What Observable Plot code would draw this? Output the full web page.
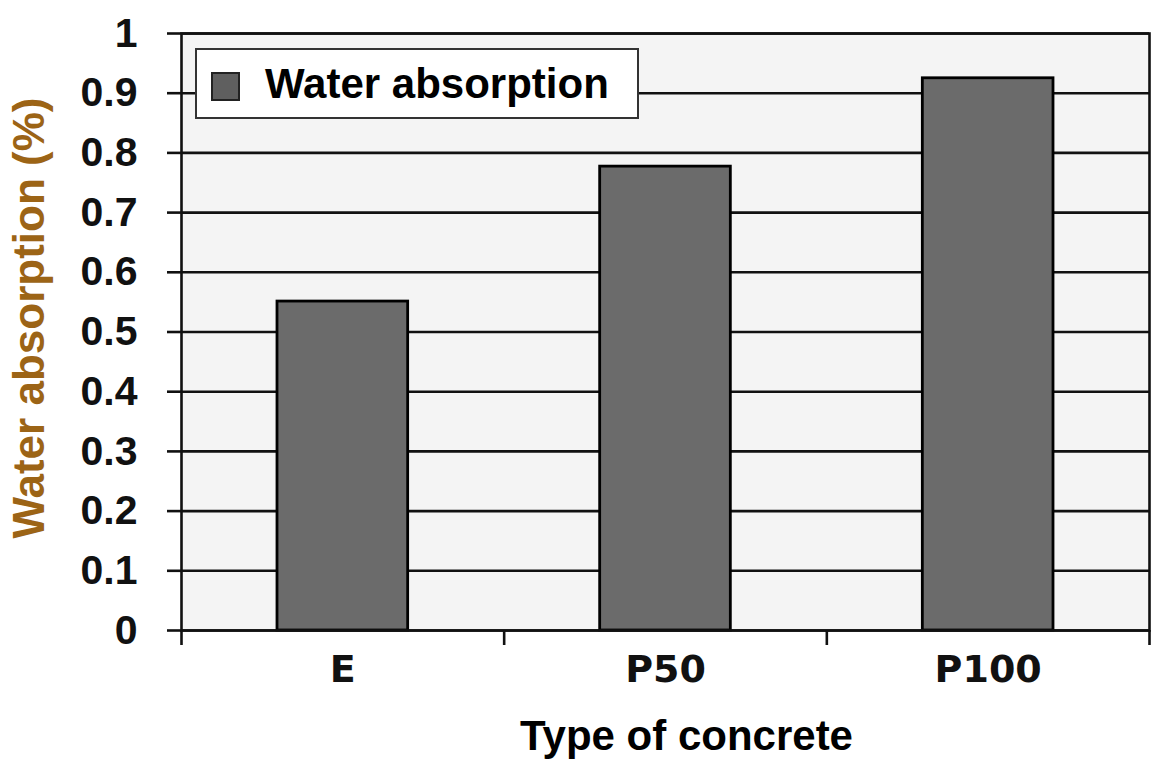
<!DOCTYPE html>
<html>
<head>
<meta charset="utf-8">
<script src="https://cdn.jsdelivr.net/npm/d3@7"></script>
<script src="https://cdn.jsdelivr.net/npm/@observablehq/plot@0.6"></script>
<style>
  body { margin: 0; background: #fff; }
  #wrap { position: relative; width: 1155px; height: 763px; }
  .legend { position: absolute; left: 195px; top: 48px; width: 440px; height: 67px;
    background: #fff; border: 2.5px solid #333; }
  .legend .sw { position: absolute; left: 14px; top: 22px; width: 25px; height: 25px;
    background: #5f5f5f; border: 2.5px solid #222; }
  .legend .lt { position: absolute; left: 68px; top: 0; line-height: 67px;
    font-family: "Liberation Sans", Arial, sans-serif; font-weight: bold; font-size: 42px; color: #000; }
</style>
</head>
<body>
<div id="wrap"></div>
<script>
const categories = ["E", "P50", "P100"];
const values = [0.551, 0.777, 0.925];
const yTicks = [0, 0.1, 0.2, 0.3, 0.4, 0.5, 0.6, 0.7, 0.8, 0.9, 1];
const seriesName = "Water absorption";
const yLabel = "Water absorption (%)";
const xLabel = "Type of concrete";

const data = categories.map((c, i) => ({cat: c, i, value: values[i]}));
const bounds = d3.range(categories.length + 1);
const centers = categories.map((c, i) => i + 0.5);

const chart = Plot.plot({
  width: 1155,
  height: 763,
  marginLeft: 181,
  marginRight: 6,
  marginTop: 33,
  marginBottom: 133,
  style: {fontFamily: "'Liberation Sans', Arial, sans-serif", color: "#000", background: "#fff", overflow: "visible"},
  x: {domain: [0, categories.length], axis: null, label: null},
  y: {domain: [0, 1], axis: null, label: null},
  marks: [
    Plot.frame({fill: "#f4f4f4", stroke: null}),
    Plot.ruleY(yTicks, {stroke: "#111", strokeWidth: 2.6}),
    Plot.rectY(data, {x1: "i", x2: d => d.i + 1, y: "value", insetLeft: 96, insetRight: 96,
      fill: "#6b6b6b", stroke: "#000", strokeWidth: 2.8}),
    Plot.frame({stroke: "#111", strokeWidth: 2.6}),
    Plot.axisY({ticks: yTicks, label: null, tickSize: 14, tickPadding: 30, stroke: "#111", strokeWidth: 2.6,
      tickFormat: d => String(+d.toFixed(1)), fontSize: 41, fontWeight: "bold", fill: "#111"}),
    Plot.axisX({ticks: bounds, label: null, tickSize: 15, tickFormat: () => "", stroke: "#111", strokeWidth: 2.6}),
    Plot.axisX({ticks: centers, label: null, tickSize: 0, tickPadding: 25, tickFormat: v => categories[Math.floor(v)],
      fontSize: 38, fontWeight: "bold", fontFamily: "'DejaVu Sans', Verdana, sans-serif", fill: "#111"}),
    Plot.text([xLabel], {frameAnchor: "bottom", dy: 119, dx: 21, fontSize: 42, fontWeight: "bold", fill: "#000"}),
    Plot.text([yLabel], {frameAnchor: "left", textAnchor: "middle", rotate: -90, dx: -152, dy: -14,
      fontSize: 44, fontWeight: "bold", fill: "#9c6416"})
  ]
});

const wrap = document.getElementById("wrap");
wrap.appendChild(chart);
const legend = document.createElement("div");
legend.className = "legend";
legend.innerHTML = `<div class="sw"></div><div class="lt">${seriesName}</div>`;
wrap.appendChild(legend);
</script>
</body>
</html>
